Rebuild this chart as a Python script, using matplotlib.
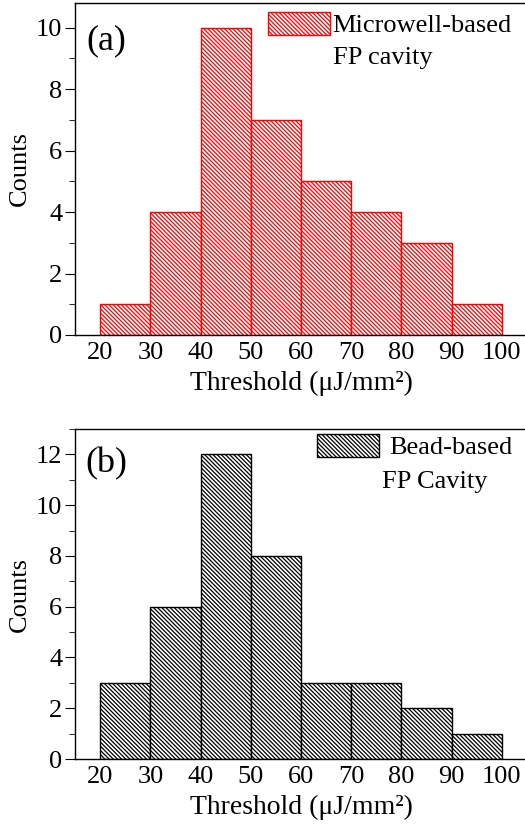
import matplotlib
matplotlib.use("Agg")
import matplotlib.pyplot as plt
from matplotlib.ticker import MultipleLocator, AutoMinorLocator
from matplotlib.patches import Patch

# data
bin_edges = [20, 30, 40, 50, 60, 70, 80, 90]
bin_width = 10
counts_a = [1, 4, 10, 7, 5, 4, 3, 1]
counts_b = [3, 6, 12, 8, 3, 3, 2, 1]
xticks = [20, 30, 40, 50, 60, 70, 80, 90, 100]

plt.rcParams['font.family'] = ['Liberation Serif', 'DejaVu Serif']
plt.rcParams['hatch.linewidth'] = 0.9

W, H = 525, 835
HATCH = '\\' * 8
fig = plt.figure(figsize=(W / 100, H / 100), dpi=100)


def px_box(left, top, right, bottom):
    return [left / W, 1 - bottom / H, (right - left) / W, (bottom - top) / H]


def panel(ax, counts, color, ylim, ystep, tag, line1, line2,
          tag_xy, hx, hy, tpad, t2_xy):
    ax.bar(bin_edges, counts, width=bin_width, align='edge',
           facecolor='white', edgecolor=color, linewidth=1.0,
           hatch=HATCH)
    ax.set_xlim(15, 105)
    ax.set_ylim(0, ylim)
    ax.set_xticks(xticks)
    ax.yaxis.set_major_locator(MultipleLocator(ystep))
    ax.yaxis.set_minor_locator(AutoMinorLocator(2))
    ax.tick_params(axis='x', length=0, labelsize=19, pad=5)
    ax.tick_params(axis='y', which='major', direction='out', length=7,
                   labelsize=19, pad=2)
    ax.tick_params(axis='y', which='minor', direction='out', length=4)
    for s in ax.spines.values():
        s.set_linewidth(1.0)
    ax.set_ylabel('Counts', fontsize=19, labelpad=4)
    ax.set_xlabel('Threshold (\u03bcJ/mm\u00b2)', fontsize=20, labelpad=5)

    fig.text(tag_xy[0] / W, 1 - tag_xy[1] / H, tag, fontsize=26,
             ha='left', va='center')

    handle = Patch(facecolor='white', edgecolor=color, linewidth=1.0,
                   hatch=HATCH)
    ax.legend([handle], [line1], loc='upper left', frameon=False,
              bbox_to_anchor=(hx / W, 1 - hy / H),
              bbox_transform=fig.transFigure, fontsize=19,
              handlelength=2.35, handleheight=0.95, handletextpad=tpad,
              borderpad=0, borderaxespad=0)
    fig.text(t2_xy[0] / W, 1 - t2_xy[1] / H, line2, fontsize=19,
             ha='left', va='center')


ax1 = fig.add_axes(px_box(75, 3, 527, 335))
panel(ax1, counts_a, '#ff0000', 10.8, 2, '(a)', 'Microwell-based',
      'FP cavity', (86, 41), 268, 12, 0.1, (333, 58))

ax2 = fig.add_axes(px_box(75, 429, 527, 759))
panel(ax2, counts_b, '#000000', 13, 2, '(b)', 'Bead-based',
      'FP Cavity', (85, 464), 317, 434, 0.4, (382, 482))

fig.savefig('out.png', dpi=100)
